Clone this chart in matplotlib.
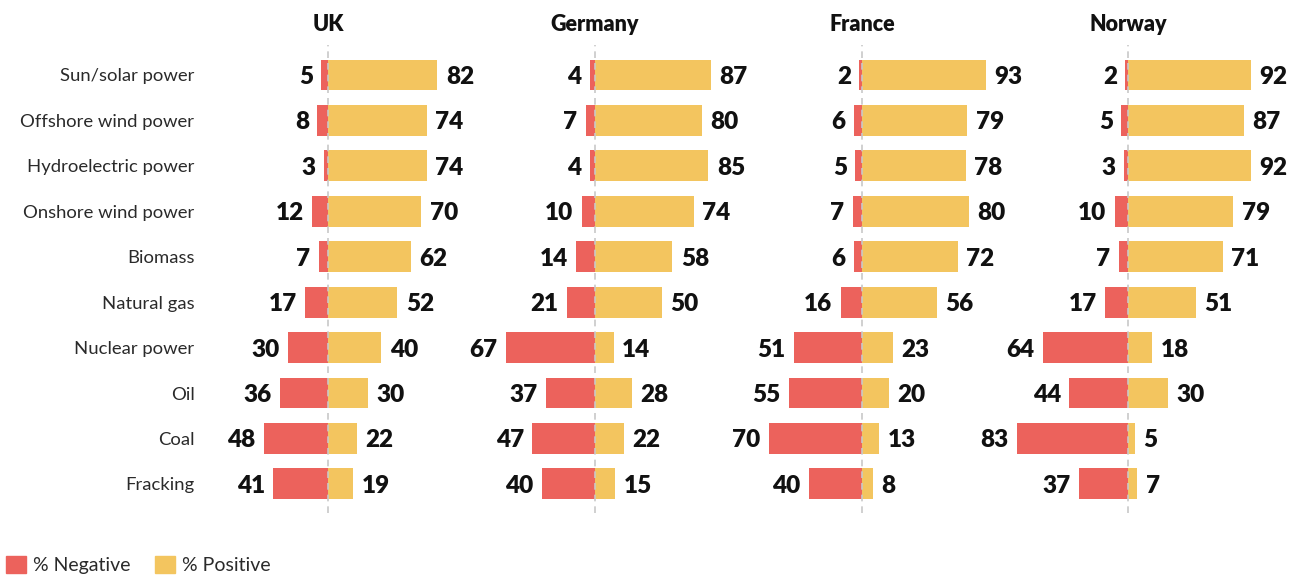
import matplotlib.pyplot as plt
from matplotlib.patches import Patch

categories = [
    "Sun/solar power", "Offshore wind power", "Hydroelectric power",
    "Onshore wind power", "Biomass", "Natural gas", "Nuclear power",
    "Oil", "Coal", "Fracking",
]
countries = ["UK", "Germany", "France", "Norway"]

uk_neg = [5, 8, 3, 12, 7, 17, 30, 36, 48, 41]
uk_pos = [82, 74, 74, 70, 62, 52, 40, 30, 22, 19]
germany_neg = [4, 7, 4, 10, 14, 21, 67, 37, 47, 40]
germany_pos = [87, 80, 85, 74, 58, 50, 14, 28, 22, 15]
france_neg = [2, 6, 5, 7, 6, 16, 51, 55, 70, 40]
france_pos = [93, 79, 78, 80, 72, 56, 23, 20, 13, 8]
norway_neg = [2, 5, 3, 10, 7, 17, 64, 44, 83, 37]
norway_pos = [92, 87, 92, 79, 71, 51, 18, 30, 5, 7]

negatives = [uk_neg, germany_neg, france_neg, norway_neg]
positives = [uk_pos, germany_pos, france_pos, norway_pos]

RED = "#ec625c"
YELLOW = "#f3c55f"

plt.rcParams["font.family"] = ["Lato", "DejaVu Sans"]

fig = plt.figure(figsize=(13, 5.79), dpi=100)
W, H = 1300, 579

# panel centres in pixels
centres = [328, 595, 862, 1128]
panel_w = 267
top_px, bot_px = 45, 513

rows = list(range(len(categories)))

for k, country in enumerate(countries):
    left = (centres[k] - panel_w / 2) / W
    ax = fig.add_axes([left, 1 - bot_px / H, panel_w / W, (bot_px - top_px) / H])
    ax.patch.set_visible(False)
    neg = negatives[k]
    pos = positives[k]

    ax.barh(rows, [-v for v in neg], height=0.68, color=RED, zorder=2)
    ax.barh(rows, pos, height=0.68, color=YELLOW, zorder=2)
    ax.axvline(0, color="#c8c8c8", lw=1.2, ls=(0, (4, 3)), zorder=3)

    for r, v in zip(rows, neg):
        ax.annotate(str(v), (-v, r), xytext=(-6, 0), textcoords="offset points",
                    ha="right", va="center_baseline", fontsize=17.5,
                    fontweight="heavy", color="#111111", zorder=5)
    for r, v in zip(rows, pos):
        ax.annotate(str(v), (v, r), xytext=(6, 0), textcoords="offset points",
                    ha="left", va="center_baseline", fontsize=17.5,
                    fontweight="heavy", color="#111111", zorder=5)

    ax.set_xlim(-100, 100)
    ax.set_ylim(9.64, -0.66)
    ax.set_title(country, fontsize=15.5, fontweight="heavy", pad=10,
                 color="#111111")
    for s in ax.spines.values():
        s.set_visible(False)
    ax.set_xticks([])
    if k == 0:
        ax.set_yticks(rows)
        ax.set_yticklabels(categories, fontsize=13.3, color="#2a2a2a")
        ax.tick_params(axis="y", length=0, pad=0)
    else:
        ax.set_yticks([])

handles = [Patch(color=RED, label="% Negative"),
           Patch(color=YELLOW, label="% Positive")]
fig.legend(handles=handles, loc="lower left", bbox_to_anchor=(-0.004, -0.012),
           ncol=2, frameon=False, handlelength=1.0, handleheight=1.0,
           handletextpad=0.35, columnspacing=1.3, borderaxespad=0.2,
           prop={"size": 14}, labelcolor="#2a2a2a")

fig.savefig("out.png", dpi=100)
